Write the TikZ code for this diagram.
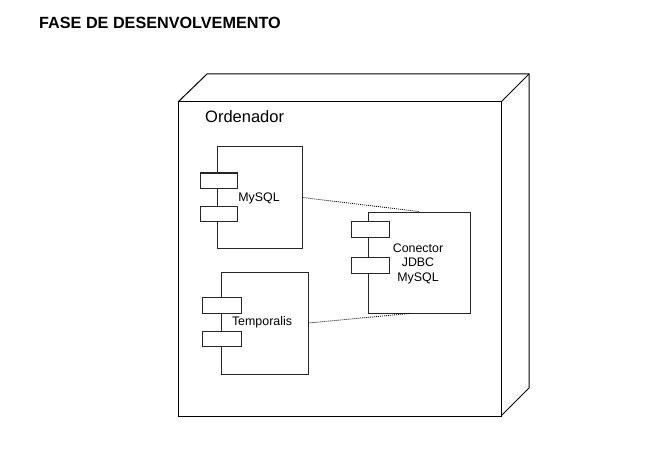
\documentclass[tikz,border=0pt]{standalone}
\usepackage{fontspec}
\setmainfont{Liberation Sans}
\begin{document}
\begin{tikzpicture}[x=1pt,y=-1pt,
  box/.style={draw=black!85,line width=1pt,fill=white},
  port/.style={draw=black!85,line width=1pt,fill=white},
  lbl/.style={font=\fontsize{12.4}{14.5}\selectfont,align=center,inner sep=0pt},
  dep/.style={line width=0.8pt,dash pattern=on 1pt off 1pt}]
\useasboundingbox (0,0) rectangle (655,473);
% title
\node[anchor=west,inner sep=0pt,font=\bfseries\fontsize{16.2}{18}\selectfont] (title) at (39,23) {FASE DE DESENVOLVEMENTO};
% 3D node
\draw[line width=1pt] (178,102) -- (207,74) -- (529,74) -- (529,388) -- (501,416);
\draw[line width=1pt] (501,102) -- (529,74);
\draw[box,draw=black] (178,102) rectangle (501,416);
\node[anchor=west,inner sep=0pt,font=\fontsize{16.5}{18}\selectfont] (ord) at (205,117) {Ordenador};
% MySQL component
\node[box,minimum width=85pt,minimum height=101pt,inner sep=0pt] (mysql) at (259.5,197.5) {};
\draw[port] (200,173) rectangle (237,188);
\draw[port] (200,206) rectangle (237,221);
\node[lbl] (mysqlt) at (259,198) {MySQL};
% Conector
\node[box,minimum width=102pt,minimum height=101pt,inner sep=0pt] (con) at (419,262.5) {};
\draw[port] (351,221) rectangle (389,237);
\draw[port] (351,257) rectangle (389,273);
\node[lbl] (cont) at (418,263.5) {Conector\\JDBC\\MySQL};
% Temporalis
\node[box,minimum width=87pt,minimum height=102pt,inner sep=0pt] (temp) at (264.5,323) {};
\draw[port] (202,297) rectangle (241,313);
\draw[port] (202,331) rectangle (241,346);
\node[lbl] (tempt) at (262,322) {Temporalis};
% dependencies
\draw[dep] (mysql.east) -- (con.north);
\draw[dep] (temp.east) -- ([xshift=-10pt]con.south);
\end{tikzpicture}
\end{document}
